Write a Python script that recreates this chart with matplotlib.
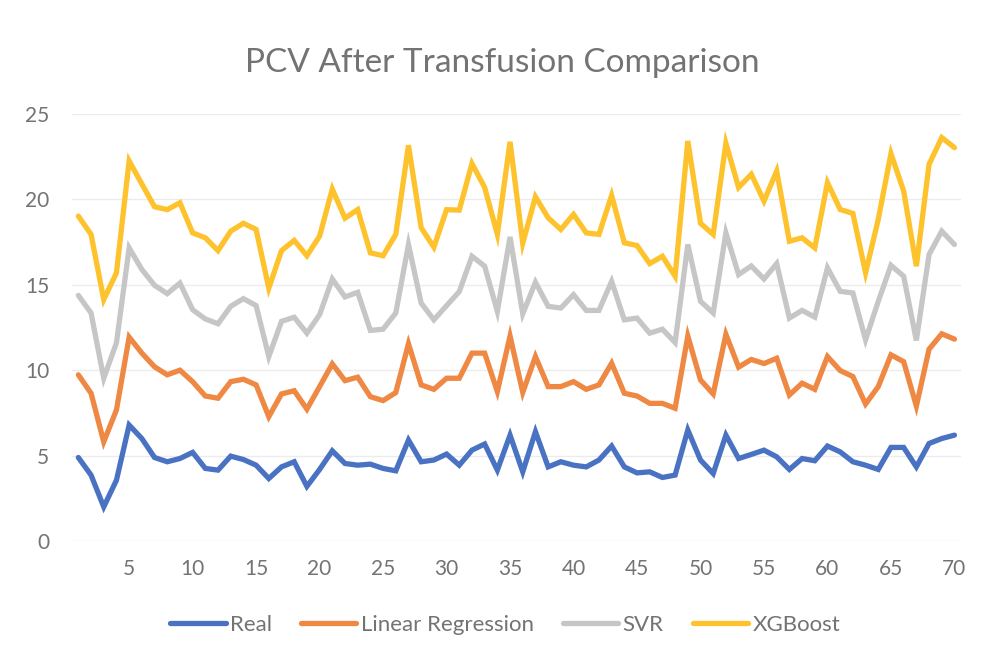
import matplotlib
matplotlib.use("Agg")
import matplotlib.pyplot as plt

# sample index 1..70
samples = list(range(1, 71))

# plotted (stacked) values
real = [4.89, 3.86, 2.00, 3.56, 6.79, 6.00, 4.89, 4.64, 4.83, 5.19,
        4.25, 4.15, 4.97, 4.77, 4.44, 3.66, 4.34, 4.64, 3.20, 4.19,
        5.28, 4.54, 4.44, 4.50, 4.25, 4.11, 5.91, 4.64, 4.74, 5.09,
        4.44, 5.32, 5.68, 4.15, 6.20, 4.05, 6.40, 4.34, 4.64, 4.44,
        4.34, 4.74, 5.56, 4.34, 3.99, 4.05, 3.72, 3.86, 6.50, 4.74,
        3.95, 6.20, 4.83, 5.07, 5.32, 4.93, 4.19, 4.83, 4.70, 5.56,
        5.22, 4.64, 4.44, 4.19, 5.48, 5.48, 4.34, 5.71, 6.00, 6.20]

linear = [9.73, 8.65, 5.81, 7.67, 11.94, 11.00, 10.20, 9.73, 10.00, 9.33,
          8.49, 8.36, 9.33, 9.47, 9.14, 7.28, 8.61, 8.80, 7.72, 9.04,
          10.37, 9.39, 9.59, 8.45, 8.22, 8.69, 11.55, 9.14, 8.88, 9.53,
          9.53, 11.00, 11.00, 8.75, 12.00, 8.70, 10.80, 9.04, 9.04, 9.33,
          8.88, 9.14, 10.41, 8.65, 8.49, 8.06, 8.06, 7.77, 12.00, 9.43,
          8.61, 12.10, 10.18, 10.63, 10.39, 10.70, 8.55, 9.24, 8.88, 10.80,
          9.98, 9.63, 8.02, 9.04, 10.90, 10.50, 7.90, 11.23, 12.13, 11.82]

svr = [14.38, 13.35, 9.53, 11.60, 17.16, 15.90, 14.97, 14.48, 15.10, 13.54,
       13.00, 12.72, 13.74, 14.19, 13.78, 10.80, 12.86, 13.10, 12.17, 13.25,
       15.34, 14.29, 14.56, 12.33, 12.40, 13.35, 17.36, 13.93, 12.95, 13.78,
       14.60, 16.67, 16.09, 13.44, 17.80, 13.30, 15.15, 13.74, 13.64, 14.42,
       13.50, 13.50, 15.20, 12.95, 13.05, 12.17, 12.40, 11.62, 17.36, 14.03,
       13.35, 18.04, 15.60, 16.10, 15.34, 16.24, 13.05, 13.50, 13.11, 15.99,
       14.62, 14.52, 11.78, 14.03, 16.14, 15.50, 11.74, 16.77, 18.14, 17.36]

xgb = [19.02, 17.95, 14.13, 15.70, 22.25, 20.90, 19.57, 19.40, 19.80, 18.04,
       17.75, 17.00, 18.14, 18.60, 18.24, 14.80, 17.00, 17.60, 16.70, 17.85,
       20.60, 18.90, 19.40, 16.87, 16.70, 17.95, 23.17, 18.34, 17.20, 19.40,
       19.37, 22.10, 20.70, 17.95, 23.37, 17.43, 20.15, 18.92, 18.24, 19.12,
       18.04, 17.95, 20.23, 17.46, 17.30, 16.24, 16.67, 15.50, 23.42, 18.60,
       17.95, 23.29, 20.70, 21.47, 19.90, 21.66, 17.55, 17.75, 17.16, 20.98,
       19.41, 19.18, 15.70, 18.83, 22.68, 20.49, 16.09, 22.05, 23.62, 23.03]

series = [
    ("Real", real, "#4a72c2"),
    ("Linear Regression", linear, "#ee8843"),
    ("SVR", svr, "#c6c6c6"),
    ("XGBoost", xgb, "#fdc22c"),
]

TEXT = "#737373"
plt.rcParams["font.family"] = ["Lato", "DejaVu Sans"]

fig = plt.figure(figsize=(9.81, 6.55), dpi=100)
ax = fig.add_axes([0.0734, 0.174, 0.906, 0.652])

for name, vals, col in series:
    ax.plot(samples, vals, color=col, lw=3.8, label=name,
            solid_joinstyle="miter", solid_capstyle="round")

ax.set_xlim(0.5, 70.5)
ax.set_ylim(0, 25)
ax.set_xticks(range(5, 71, 5))
ax.set_yticks(range(0, 26, 5))
ax.tick_params(length=0, labelsize=15, colors=TEXT)
ax.tick_params(axis="x", pad=13)
ax.tick_params(axis="y", pad=16.5)
ax.grid(axis="y", color="#ececec", lw=1)
ax.set_axisbelow(True)
for s in ax.spines.values():
    s.set_visible(False)

fig.text(0.512, 0.904, "PCV After Transfusion Comparison", ha="center",
         va="center", fontsize=24, color=TEXT)

fig.legend(loc="center", bbox_to_anchor=(0.515, 0.046), ncol=4,
           frameon=False, fontsize=16, handlelength=2.5, handletextpad=0.2,
           columnspacing=1.3, labelcolor=TEXT)

fig.savefig("out.png", dpi=100, facecolor="white")
